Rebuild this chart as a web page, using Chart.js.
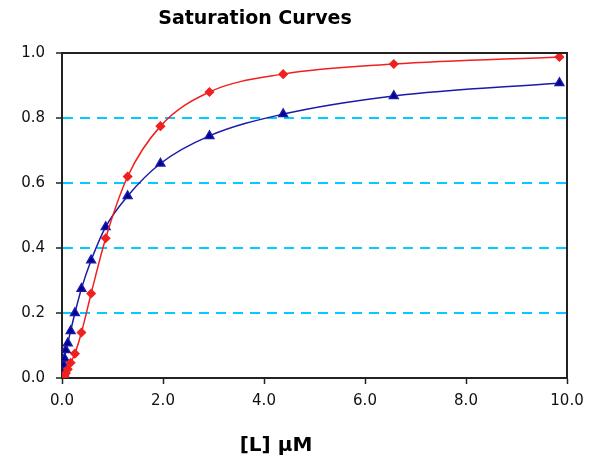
<!DOCTYPE html>
<html>
<head>
<meta charset="utf-8">
<script src="https://cdn.jsdelivr.net/npm/chart.js@4"></script>
<style>
  html, body { margin: 0; padding: 0; background: #fff; }
  #wrap { position: relative; width: 596px; height: 459px; }
</style>
</head>
<body>
<div id="wrap"><canvas id="chart"></canvas></div>
<script>
// ligand concentration (uM) and fractional saturation
const ligand = [0.0, 0.034, 0.051, 0.076, 0.114, 0.171, 0.256, 0.385, 0.577, 0.865, 1.30, 1.95, 2.92, 4.38, 6.57, 9.85];
const cooperative = [0.0, 0.003, 0.006, 0.015, 0.027, 0.047, 0.075, 0.14, 0.26, 0.43, 0.62, 0.775, 0.88, 0.935, 0.966, 0.988];
const simple = [0.0, 0.02, 0.04, 0.06, 0.086, 0.107, 0.145, 0.2, 0.275, 0.362, 0.465, 0.56, 0.66, 0.745, 0.812, 0.868, 0.908].slice(1);
const yTicks = [0.0, 0.2, 0.4, 0.6, 0.8, 1.0];
const xTicks = [0, 2, 4, 6, 8, 10];

const toPoints = (ys) => ligand.map((x, i) => ({ x: x, y: ys[i] }));

// top/right frame + titles drawn where the reference has them
const frame = {
  id: "frame",
  afterDraw(chart) {
    const { ctx, chartArea: a } = chart;
    ctx.save();
    ctx.strokeStyle = "#222";
    ctx.lineWidth = 2;
    ctx.beginPath();
    ctx.moveTo(a.left, a.top);
    ctx.lineTo(a.right, a.top);
    ctx.lineTo(a.right, a.bottom);
    ctx.stroke();
    ctx.fillStyle = "#000";
    ctx.textAlign = "center";
    ctx.textBaseline = "middle";
    ctx.font = "bold 19px 'DejaVu Sans'";
    ctx.fillText("Saturation Curves", 255, 19);
    ctx.font = "bold 20px 'DejaVu Sans'";
    ctx.fillText("[L] \u00b5M", 276, 446);
    ctx.restore();
  }
};

new Chart(document.getElementById("chart"), {
  type: "line",
  data: {
    datasets: [
      {
        label: "cooperative",
        data: toPoints(cooperative),
        borderColor: "#f02020",
        backgroundColor: "#f02020",
        borderWidth: 1.5,
        pointStyle: "rectRot",
        pointRadius: 4,
        cubicInterpolationMode: "monotone"
      },
      {
        label: "simple",
        data: toPoints(simple),
        borderColor: "#1a1aa8",
        backgroundColor: "#000090",
        borderWidth: 1.5,
        pointStyle: "triangle",
        pointRadius: 5,
        cubicInterpolationMode: "monotone"
      }
    ]
  },
  options: {
    responsive: true,
    maintainAspectRatio: false,
    animation: false,
    layout: { padding: { left: 0, top: 53, right: 29, bottom: 0 } },
    plugins: {
      legend: { display: false },
      tooltip: { enabled: false }
    },
    scales: {
      x: {
        type: "linear",
        min: 0,
        max: 10,
        afterFit: (s) => { s.height = 81; },
        afterBuildTicks: (s) => { s.ticks = xTicks.map((v) => ({ value: v })); },
        border: { color: "#222", width: 2 },
        grid: { drawOnChartArea: false, tickLength: 6, color: "#222", tickWidth: 1.5 },
        ticks: {
          color: "#111",
          padding: 8,
          maxRotation: 0,
          font: { family: "DejaVu Sans", size: 15 },
          callback: (v) => Number(v).toFixed(1)
        }
      },
      y: {
        min: 0,
        max: 1,
        afterFit: (s) => { s.width = 62; },
        afterBuildTicks: (s) => { s.ticks = yTicks.map((v) => ({ value: v })); },
        border: { color: "#222", width: 2, dash: [10, 7] },
        grid: {
          color: (c) => (c.tick && c.tick.value > 0.01 && c.tick.value < 0.99 ? "#00ccff" : "rgba(0,0,0,0)"),
          tickColor: "#222",
          lineWidth: 2,
          tickLength: 6,
          tickWidth: 1.5,
          tickBorderDash: []
        },
        ticks: {
          color: "#111",
          padding: 11,
          font: { family: "DejaVu Sans", size: 15 },
          callback: (v) => Number(v).toFixed(1)
        }
      }
    }
  },
  plugins: [frame]
});
</script>
</body>
</html>
